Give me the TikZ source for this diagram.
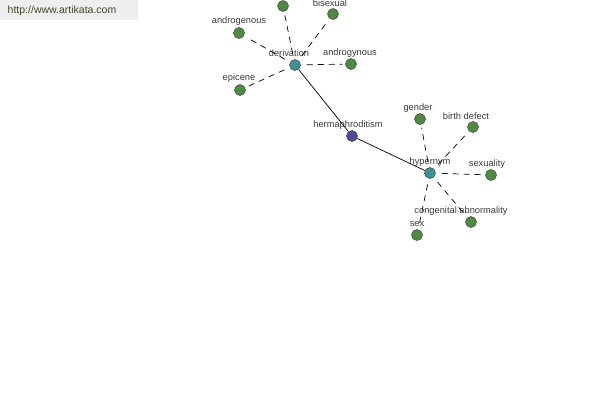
\documentclass[tikz,border=0pt]{standalone}
\usepackage{fontspec}
\setmainfont{Liberation Sans}
\usetikzlibrary{positioning}
\definecolor{aleaf}{HTML}{4E8A42}
\definecolor{arel}{HTML}{3E9196}
\definecolor{aword}{HTML}{4A4E9A}
\definecolor{atext}{HTML}{3C3C3C}
\definecolor{amark}{HTML}{EEEEEE}
\definecolor{amarktext}{HTML}{3E4A2A}

\begin{document}
\begin{tikzpicture}[x=1pt, y=-1pt,
  term/.style={circle, draw=black!75, line width=0.5pt, minimum size=11pt, inner sep=0pt},
  lbl/.style={font=\fontsize{9.3}{10}\selectfont, text=atext, inner sep=0pt},
  rel/.style={dashed, dash pattern=on 6pt off 5pt, line width=0.7pt, shorten <=6pt, shorten >=3pt}]

  \useasboundingbox (0,0) rectangle (600,400);

  %% Watermark
  \fill[amark] (0,0) rectangle (138,20);
  \node[font=\fontsize{10.5}{11}\selectfont, text=amarktext] (mark) at (62,11) {http://www.artikata.com};

  %% Word and relations
  \node[term, fill=aword] (herm) at (352,136) {};
  \node[lbl] (herm-l) at (348,125) {hermaphroditism};
  \node[term, fill=arel] (deriv) at (295,65) {};
  \node[lbl] (deriv-l) at (289,53) {derivation};
  \node[term, fill=arel] (hyper) at (430,173) {};
  \node[lbl] (hyper-l) at (430,162) {hypernym};
  \draw[line width=0.7pt] (deriv) -- (herm);
  \draw[line width=0.7pt] (herm) -- (hyper);

  %% Derivation
  \node[term, fill=aleaf] (top) at (283,6) {};
  \draw[rel] (deriv) -- (top);
  \foreach \n/\x/\y/\lx/\ly/\txt in {
    andro/239/33/239/21/androgenous,
    bisex/333/14/330/3/bisexual,
    gyno/351/64/350/53/androgynous,
    epic/240/90/239/78/epicene
  }{
    \node[term, fill=aleaf] (\n) at (\x,\y) {};
    \node[lbl] (\n-l) at (\lx,\ly) {\txt};
    \draw[rel] (deriv) -- (\n);
  }

  %% Hypernym
  \foreach \n/\x/\y/\lx/\ly/\txt in {
    gend/420/119/418/108/gender,
    birth/473/127/466/116/birth defect,
    sexu/491/175/487/164/sexuality,
    cong/471/222/461/211/congenital abnormality,
    sex/417/235/417/224/sex
  }{
    \node[term, fill=aleaf] (\n) at (\x,\y) {};
    \node[lbl] (\n-l) at (\lx,\ly) {\txt};
    \draw[rel] (hyper) -- (\n);
  }

\end{tikzpicture}
\end{document}
